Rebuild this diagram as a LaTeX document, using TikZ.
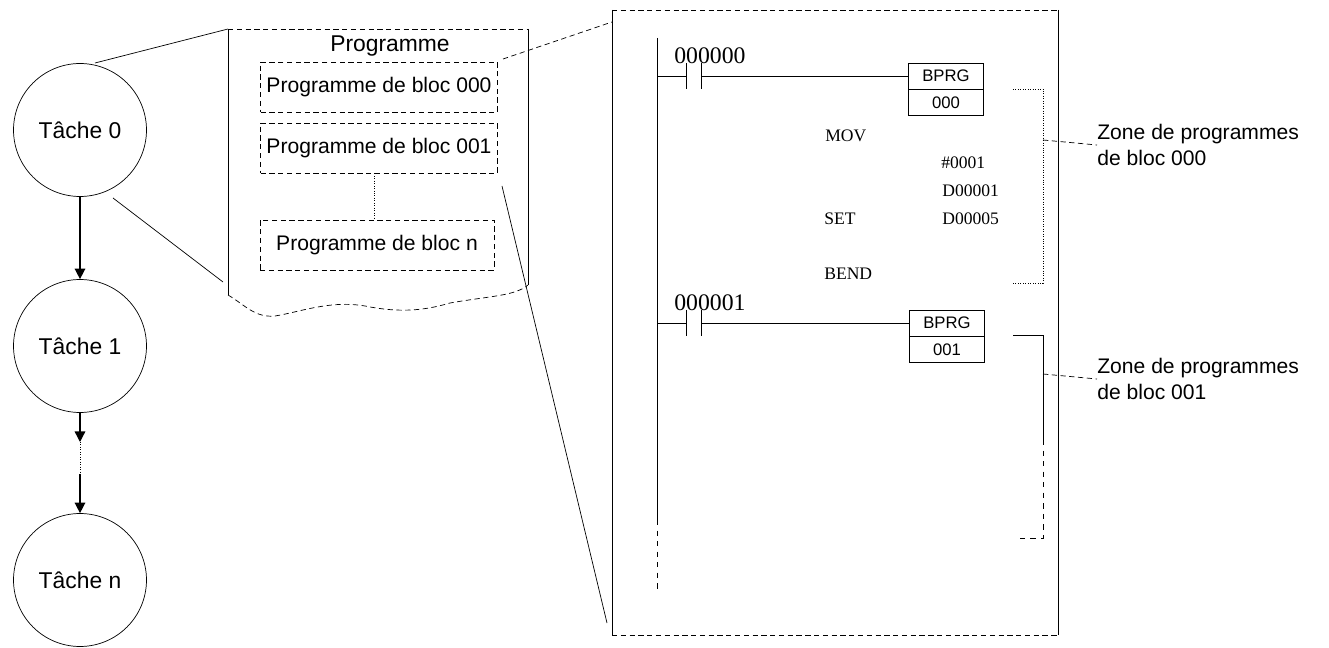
\documentclass[tikz,border=0pt]{standalone}
\usepackage{fontspec}
\setmainfont{Liberation Sans}
\newfontfamily\ladderfont{Liberation Serif}
\usetikzlibrary{arrows.meta,positioning,shapes.geometric}
\tikzset
{
    task/.style    = {circle, draw=black, thin, minimum size=2.66cm, align=center, font=\fontsize{13}{15}\selectfont},
    block/.style   = {rectangle, draw=black, densely dashed, minimum width=4.68cm, minimum height=1.0cm, font=\fontsize{12}{14}\selectfont},
    flow/.style    = {thick, -{Triangle[length=6pt,width=6pt]}},
    zoomline/.style= {thin},
    ladder/.style  = {font=\ladderfont\fontsize{10}{12}\selectfont, inner sep=0pt},
    addr/.style    = {font=\ladderfont\fontsize{13.5}{15}\selectfont, inner sep=0pt, anchor=south west},
    instr/.style   = {rectangle, draw=black, minimum width=1.5cm, minimum height=0.52cm, inner sep=0pt, font=\fontsize{9.5}{11}\selectfont},
    zone/.style    = {align=left, anchor=west, font=\fontsize{12}{14.5}\selectfont, inner sep=0pt}
}
\begin{document}
\begin{tikzpicture}[x=0.02cm,y=-0.02cm]
	\useasboundingbox (0,0) rectangle (1329,648);
	% tasks
	\node (t0) [task] at (80,130) {T\^ache\ 0};
	\node (t1) [task] at (80,346) {T\^ache\ 1};
	\node (tn) [task] at (80,580) {T\^ache\ n};
	\coordinate (d1) at (80,442);
	\coordinate (d2) at (80,474);
	\draw [flow] (t0) -- (t1);
	\draw [flow] (t1) -- (d1);
	\draw [densely dotted] (d1) -- (d2);
	\draw [flow] (d2) -- (tn);

	% programme panel
	\coordinate (pnw) at (228,29);
	\coordinate (pne) at (528,29);
	\coordinate (psw) at (228,295);
	\coordinate (pse) at (528,285);
	\draw [densely dashed] (pnw) -- (pne);
	\draw (pnw) -- (psw);
	\draw (pne) -- (pse);
	\draw [densely dashed] (psw) .. controls (245,305) and (255,318) .. (275,316)
		.. controls (300,312) and (330,300) .. (365,306)
		.. controls (395,312) and (420,312) .. (450,303)
		.. controls (490,296) and (515,296) .. (pse);
	\node (prg) [font=\fontsize{13}{15}\selectfont] at (390,46) {Programme};
	\node (b000) [block] at (379,87) {Programme de bloc 000};
	\node (b001) [block] at (379,148) {Programme de bloc 001};
	\node (bn)   [block] at (377,245) {Programme de bloc n};
	\draw [densely dotted] (b001.south -| 374,0) -- (bn.north -| 374,0);
	\coordinate (z1) at (95,63);
	\coordinate (z2) at (113,198);
	\draw [zoomline] (z1) -- (pnw);
	\draw [zoomline] (z2) -- (223,282);

	% ladder panel
	\coordinate (lnw) at (612,10);
	\coordinate (lne) at (1058,10);
	\coordinate (lsw) at (612,635);
	\coordinate (lse) at (1058,635);
	\draw [densely dashed] (lnw) -- (lne);
	\draw [densely dashed] (lsw) -- (lse);
	\draw (lnw) -- (lsw);
	\draw (lne) -- (lse);
	\coordinate (e1) at (503,59);
	\coordinate (e2) at (502,186);
	\draw [densely dashed] (e1) -- (lnw |- 0,22);
	\draw [zoomline] (e2) -- (607,623);

	% rail
	\draw (657,38) -- (657,520);
	\draw [dashed] (657,520) -- (657,590);

	% rung 000
	\node (a0) [addr] at (674,64) {000000};
	\node (bp0) [instr] at (946,76) {BPRG};
	\node (n0)  [instr, below=0pt of bp0] {000};
	\draw (657,76) -- (686,76);
	\draw (686,63) -- (686,89);
	\draw (701,63) -- (701,89);
	\draw (701,76) -- (bp0.west);
	\node (mov)  [ladder, anchor=west] at (825,136) {MOV};
	\node (src)  [ladder, anchor=west] at (941,163) {\#0001};
	\node (dst)  [ladder, anchor=west] at (942,191) {D00001};
	\node (set)  [ladder, anchor=west] at (824,219) {SET};
	\node (bit)  [ladder, anchor=west] at (942,219) {D00005};
	\node (bend) [ladder, anchor=west] at (824,274) {BEND};
	\coordinate (k0) at (1043,140);
	\draw [densely dotted] (1013,89) -- (1043,89) -- (1043,283) -- (1013,283);

	% rung 001
	\node (a1) [addr] at (674,311) {000001};
	\node (bp1) [instr] at (947,323) {BPRG};
	\node (n1)  [instr, below=0pt of bp1] {001};
	\draw (657,323) -- (686,323);
	\draw (686,310) -- (686,336);
	\draw (701,310) -- (701,336);
	\draw (701,323) -- (bp1.west);
	\coordinate (k1) at (1043,374);
	\draw (1013,335) -- (1043,335) -- (1043,440);
	\draw [dashed] (1043,440) -- (1043,538) -- (1018,538);

	% zones
	\node (zone0) [zone] at (1097,145) {Zone de programmes\\de bloc 000};
	\node (zone1) [zone] at (1097,379) {Zone de programmes\\de bloc 001};
	\draw [densely dashed] (k0) -- (zone0.west);
	\draw [densely dashed] (k1) -- (zone1.west);
\end{tikzpicture}
\end{document}
